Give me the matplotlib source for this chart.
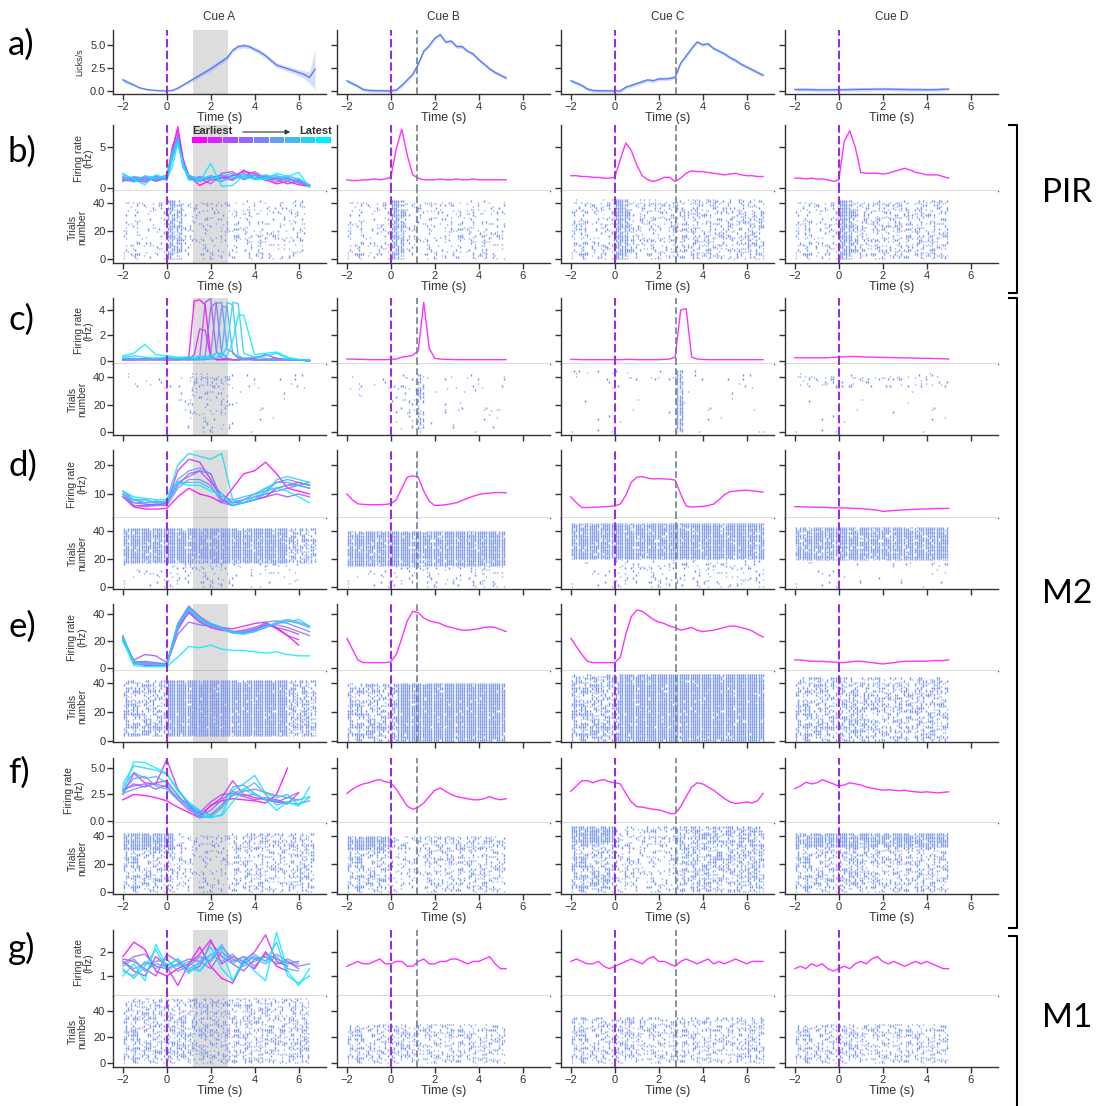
import numpy as np
import matplotlib
matplotlib.use('Agg')
import matplotlib.pyplot as plt
from matplotlib.colors import LinearSegmentedColormap
from matplotlib.patches import Rectangle

plt.rcParams['font.family'] = ['Liberation Sans', 'DejaVu Sans']

# -------------------- labels --------------------
cues = ['Cue A', 'Cue B', 'Cue C', 'Cue D']
row_tags = ['a)', 'b)', 'c)', 'd)', 'e)', 'f)', 'g)']
regions = ['PIR', 'M2', 'M1']
shade_window = (1.2, 2.8)              # grey window, cue A
second_event = [None, 1.2, 2.8, None]  # grey dashed line per cue

# -------------------- time grids (s) --------------------
t_A = np.arange(-2, 6.76, 0.25)
t_B = np.arange(-2, 5.26, 0.25)
t_C = np.arange(-2, 6.76, 0.25)
t_D = np.arange(-2, 5.01, 0.25)
t_multi_b = [-2, -1.5, -1, -0.5, 0, 0.25, 0.5, 0.75, 1, 1.5, 2, 2.5, 3, 3.5, 4, 4.5, 5, 5.5, 6, 6.5]
t_multi_c = [-2, -1.5, -1, -0.5, 0, 0.5, 1, 1.25, 1.5, 1.75, 2, 2.25, 2.5, 2.75, 3, 3.25, 3.5, 4, 4.5, 5, 5.5, 6, 6.5]
t_multi = np.arange(-2, 6.51, 0.5)
nan = np.nan

# -------------------- licking (licks/s) --------------------
lick_A = [1.2, 0.9, 0.65, 0.35, 0.2, 0.1, 0.05, 0.02, 0.0, 0.05, 0.3, 0.65, 1.0, 1.35, 1.7, 2.05, 2.4, 2.8,
          3.2, 3.6, 4.4, 4.8, 4.9, 4.8, 4.5, 4.2, 3.8, 3.3, 2.8, 2.6, 2.4, 2.2, 2.0, 1.8, 1.45, 2.35]
lick_A_sem = [0.25, 0.2, 0.15, 0.1, 0.08, 0.05, 0.03, 0.02, 0.02, 0.05, 0.1, 0.15, 0.2, 0.2, 0.2, 0.22, 0.25, 0.25,
              0.25, 0.25, 0.25, 0.25, 0.25, 0.25, 0.25, 0.25, 0.25, 0.25, 0.25, 0.25, 0.3, 0.3, 0.35, 0.4, 0.6, 2.2]
lick_B = [1.1, 0.8, 0.5, 0.15, 0.05, 0.03, 0.02, 0.01, 0.0, 0.1, 0.6, 1.2, 1.8, 2.9, 4.3, 4.9, 5.7, 6.1,
          5.3, 5.4, 4.8, 4.8, 4.3, 4.0, 3.4, 2.9, 2.4, 2.0, 1.7, 1.4]
lick_C = [1.1, 0.85, 0.6, 0.2, 0.05, 0.02, 0.01, 0.0, 0.0, 0.0, 0.4, 0.6, 0.8, 1.0, 1.2, 1.1, 1.3, 1.3,
          1.35, 1.5, 3.0, 3.8, 4.6, 5.3, 5.0, 5.1, 4.6, 4.3, 4.0, 3.6, 3.3, 2.9, 2.6, 2.3, 2.0, 1.7]
lick_D = [0.15, 0.15, 0.15, 0.14, 0.12, 0.12, 0.12, 0.12, 0.13, 0.14, 0.15, 0.16, 0.17, 0.18, 0.18, 0.2,
          0.2, 0.2, 0.18, 0.17, 0.16, 0.15, 0.15, 0.14, 0.13, 0.14, 0.15, 0.18, 0.2]
lick_sem = 0.2

# -------------------- firing rates, cue A (earliest -> latest session) --------------------
fr_b_A = [
    [1.0, 0.8, 1.2, 0.9, 1.3, 4.5, 7.5, 3.5, 1.5, 0.3, 1.0, 1.2, 1.5, 2.0, 1.8, 1.0, 0.5, 0.8, 0.4, 0.2],
    [1.2, 1.0, 0.7, 1.4, 1.1, 5.0, 7.0, 3.0, 1.2, 0.8, 1.3, 1.5, 1.0, 2.2, 1.2, 1.4, 1.0, 0.5, 0.9, 0.3],
    [0.8, 1.3, 1.0, 1.1, 1.6, 4.0, 6.5, 3.2, 1.4, 1.2, 0.5, 1.8, 2.0, 1.0, 1.6, 0.9, 1.2, 1.1, 0.6, 0.2],
    [1.1, 0.9, 1.4, 0.8, 1.2, 4.2, 6.2, 2.8, 1.0, 1.4, 1.1, 0.8, 1.6, 1.4, 2.0, 1.2, 0.7, 1.3, 0.8, 0.3],
    [1.4, 1.1, 0.9, 1.3, 1.0, 3.8, 6.0, 3.0, 1.6, 1.0, 1.5, 1.2, 0.9, 1.8, 1.1, 1.5, 1.1, 0.9, 1.0, 0.4],
    [0.9, 1.4, 1.2, 1.0, 1.4, 4.4, 5.8, 2.6, 1.3, 0.9, 1.2, 1.6, 1.3, 1.2, 1.7, 1.0, 1.4, 1.2, 0.7, 0.3],
    [1.6, 1.2, 1.1, 1.5, 0.9, 3.5, 5.5, 2.9, 1.1, 1.3, 1.0, 1.4, 1.8, 1.1, 1.3, 1.6, 1.2, 1.5, 1.1, 0.3],
    [1.3, 0.7, 1.5, 1.2, 1.5, 4.0, 6.0, 2.4, 1.5, 1.1, 1.4, 0.9, 1.2, 1.7, 1.0, 1.3, 1.6, 0.8, 1.2, 0.2],
    [1.8, 1.0, 0.4, 1.6, 1.2, 2.5, 5.5, 3.0, 1.0, 0.8, 3.0, 0.2, 0.3, 1.5, 1.2, 1.0, 1.8, 1.4, 1.9, 0.1],
]
fr_c_A = [
    [0.1, 0.1, 0.1, 0.2, 0.1, 0.1, 0.3, 4.7, 4.8, 4.4, 0.4, 0.1, 0.1, 0.1, 0.1, 0.1, 0.2, 0.1, 0.1, 0.1, 0.1, 0.1, 0.0],
    [0.1, 0.1, 0.2, 0.1, 0.1, 0.2, 0.1, 0.5, 2.5, 2.4, 0.3, 0.1, 0.1, 0.2, 0.1, 0.1, 0.1, 0.2, 0.5, 0.2, 0.1, 0.1, 0.0],
    [0.1, 0.1, 0.1, 0.1, 0.2, 0.1, 0.1, 0.1, 0.3, 4.6, 4.9, 0.8, 0.2, 0.1, 0.1, 0.1, 0.2, 0.1, 0.1, 0.1, 0.1, 0.1, 0.0],
    [0.1, 0.2, 0.1, 0.1, 0.1, 0.1, 0.2, 0.1, 0.1, 0.4, 4.2, 4.6, 0.6, 0.2, 0.1, 0.1, 0.1, 0.1, 0.1, 0.2, 0.1, 0.1, 0.0],
    [0.2, 0.1, 0.1, 0.1, 0.1, 0.1, 0.1, 0.2, 0.1, 0.1, 0.5, 4.5, 4.6, 0.9, 0.7, 0.3, 0.2, 0.1, 0.1, 0.1, 0.1, 0.1, 0.0],
    [0.1, 0.1, 0.2, 0.1, 0.1, 0.1, 0.1, 0.1, 0.2, 0.1, 0.2, 0.6, 4.3, 4.2, 0.6, 0.2, 0.1, 0.1, 0.1, 0.1, 0.1, 0.1, 0.0],
    [0.2, 0.2, 0.1, 0.2, 0.1, 0.2, 0.1, 0.1, 0.1, 0.2, 0.1, 0.2, 0.7, 4.6, 4.4, 0.4, 0.2, 0.3, 0.2, 0.1, 0.1, 0.1, 0.0],
    [0.3, 0.4, 0.3, 0.2, 0.3, 0.2, 0.3, 0.2, 0.2, 0.3, 0.3, 0.2, 0.3, 1.2, 4.6, 4.5, 0.6, 0.3, 0.4, 0.6, 0.2, 0.1, 0.1],
    [0.4, 0.6, 1.3, 0.5, 0.4, 0.3, 0.3, 0.3, 0.4, 0.3, 0.4, 0.6, 0.5, 0.4, 1.5, 3.6, 3.6, 0.5, 0.6, 0.7, 0.3, 0.1, 0.1],
]
fr_d_A = [
    [9, 5.5, 4.8, 4.8, 5.0, 9, 12, 10, 9, 7, 12, 17, 18, 21, 17, 12, 11, 10],
    [10, 6, 6, 6.5, 6.5, 18, 22, 21, 15, 8, 6, 7, 8, 9, 12, 13, 14, 13],
    [10, 7, 6.5, 6, 7, 13, 17, 18, 14, 10, 7, 7, 8, 9, 10, 9, 10, 9],
    [11, 8, 7, 7.5, 7, 14, 16, 18, 17, 8, 7, 8, 9, 10, 11, 12, 13, 12],
    [9, 6, 5.5, 6, 6, 12, 15, 15, 13, 7, 6, 7, 8, 11, 14, 15, 14, 13],
    [10, 8, 8, 7, 7.5, 15, 18, 19, 17, 8, 7, 8, 10, 12, 14, 14, 13, 14],
    [10, 7, 7, 7, 7, 14, 14, 14, 12, 9, 8, 9, 10, 11, 12, 13, 13, 12],
    [11, 9, 8.5, 8, 8, 20, 24, 23, 22, 24, 8, 7, 8, 10, 15, 16, 15, 14],
    [10, 8, 8, 7, 7.5, 14, 13, 13, 11, 10, 6, 7, 9, 12, 12, 11, 9, 7],
]
fr_e_A = [
    [23, 4, 2, 1.5, 2, 30, 41, 34, 30, 28, 27, 26, 28, 32, 30, 24, 17, nan],
    [22, 5, 4, 3, 3, 32, 45, 38, 32, 30, 29, 31, 33, 34, 29, 24, 21, nan],
    [20, 6, 10, 9, 4, 28, 42, 35, 31, 30, 27, 28, 30, 33, 30, 28, 25, nan],
    [22, 4, 5, 4, 3, 25, 34, 32, 31, 29, 26, 27, 29, 31, 32, 30, 27, 24],
    [24, 3, 3, 3, 3, 33, 46, 38, 33, 30, 27, 26, 28, 34, 35, 33, 30, 27],
    [21, 5, 4, 3, 3, 30, 44, 36, 32, 29, 26, 26, 27, 30, 33, 35, 33, 30],
    [23, 4, 3, 3, 2, 31, 45, 37, 33, 30, 27, 26, 27, 30, 34, 36, 34, 31],
    [22, 4, 3, 2.5, 2, 32, 43, 35, 31, 29, 26, 25, 27, 31, 33, 34, 36, 31],
    [20, 2, 1, 1, 1, 8, 16, 15, 17, 14, 13, 13, 12, 11, 12, 10, 9, 9],
]
fr_f_A = [
    [2.0, 2.5, 2.4, 2.2, 1.9, 1.3, 0.8, 0.3, 1.5, 1.9, 2.1, 2.0, 1.9, 1.7, 2.5, 5.0, nan, nan],
    [2.5, 4.5, 3.6, 3.5, 5.8, 3.0, 1.5, 0.6, 1.4, 2.2, 3.8, 2.5, 2.2, 2.0, 1.8, 1.6, nan, nan],
    [2.8, 3.5, 3.2, 3.6, 3.8, 2.4, 1.2, 0.8, 1.8, 2.5, 2.6, 2.3, 2.0, 2.2, 2.0, 1.7, 2.6, nan],
    [3.0, 3.3, 3.5, 3.0, 3.4, 2.0, 1.0, 0.5, 1.0, 2.0, 2.8, 2.4, 2.5, 2.0, 1.8, 2.2, 2.7, nan],
    [2.6, 3.0, 3.3, 3.5, 3.2, 2.2, 1.6, 0.9, 0.6, 1.5, 2.4, 2.8, 3.0, 2.7, 2.4, 2.2, 2.0, nan],
    [2.9, 4.0, 4.2, 3.3, 3.0, 2.0, 1.4, 0.4, 0.5, 1.4, 3.2, 3.4, 2.6, 2.0, 1.9, 1.7, 1.6, 1.9],
    [3.2, 4.6, 4.0, 4.2, 3.6, 2.5, 1.2, 0.3, 0.4, 1.2, 2.6, 3.0, 3.6, 2.5, 1.5, 1.8, 2.0, 2.3],
    [3.5, 5.2, 5.0, 4.8, 4.4, 3.0, 1.7, 0.6, 0.3, 0.6, 2.9, 3.5, 4.3, 2.6, 2.2, 2.5, 1.5, 2.2],
    [2.6, 5.6, 5.5, 5.0, 4.5, 2.8, 1.8, 1.0, 0.4, 0.5, 1.8, 3.0, 2.5, 2.0, 1.0, 1.8, 1.4, 3.2],
]
fr_g_A = [
    [1.8, 2.4, 2.1, 1.2, 1.0, 1.3, 1.5, 2.2, 1.4, 0.9, 0.7, 1.6, 1.3, 2.0, 1.4, 1.2, nan, nan],
    [1.6, 1.2, 1.0, 1.8, 1.4, 0.6, 1.5, 1.9, 2.5, 1.5, 1.8, 1.6, 2.0, 2.7, 1.6, 1.4, nan, nan],
    [1.7, 1.6, 1.3, 1.0, 1.9, 1.6, 1.2, 1.4, 2.4, 1.8, 1.5, 1.2, 1.7, 1.8, 1.5, 1.6, 1.3, nan],
    [1.5, 1.8, 1.9, 1.4, 1.3, 1.5, 1.7, 1.6, 1.3, 2.0, 1.6, 1.8, 1.4, 1.9, 1.7, 1.5, 1.6, nan],
    [1.6, 1.3, 1.5, 1.6, 1.7, 1.2, 1.4, 1.8, 1.6, 2.2, 1.7, 1.5, 1.8, 1.6, 1.9, 1.6, 1.4, 1.5],
    [1.4, 1.7, 1.2, 1.5, 1.4, 1.7, 1.3, 1.5, 1.9, 1.6, 1.9, 1.4, 1.6, 1.8, 1.5, 1.7, 1.5, nan],
    [1.2, 1.0, 1.6, 1.3, 1.5, 1.4, 1.6, 1.2, 1.7, 2.3, 1.5, 1.8, 1.7, 1.5, 1.8, 1.3, 1.2, nan],
    [1.3, 0.9, 1.4, 2.1, 1.2, 1.5, 1.1, 1.6, 2.2, 1.3, 0.8, 1.5, 1.9, 1.6, 2.4, 1.0, 0.7, 1.0],
    [1.0, 1.5, 0.8, 2.3, 1.4, 1.7, 1.3, 1.2, 1.9, 2.1, 0.8, 1.7, 1.2, 0.8, 2.8, 1.2, 0.6, 1.3],
]

# -------------------- firing rates, cues B-D --------------------
fr_b_B = [1.0, 0.9, 0.9, 1.0, 1.0, 1.1, 1.0, 1.1, 1.3, 4.8, 7.2, 4.0, 1.6, 1.2, 1.0, 1.0, 1.0, 1.1, 1.0, 1.0,
          1.1, 1.0, 1.0, 1.1, 1.0, 1.0, 1.0, 1.0, 1.0, 1.0]
fr_b_C = [1.5, 1.5, 1.4, 1.4, 1.3, 1.3, 1.2, 1.2, 1.3, 3.5, 5.5, 4.6, 2.8, 1.5, 1.0, 0.8, 1.0, 1.3, 1.3, 0.8,
          1.2, 1.8, 2.1, 2.0, 2.0, 1.9, 1.8, 1.7, 1.6, 1.7, 1.8, 1.6, 1.5, 1.5, 1.4, 1.4]
fr_b_D = [1.2, 1.2, 1.1, 1.2, 1.1, 1.1, 1.0, 0.8, 1.0, 5.7, 7.0, 5.0, 1.9, 1.8, 1.8, 1.8, 1.7, 1.8, 2.0, 2.2,
          2.4, 2.2, 1.9, 1.8, 1.6, 1.6, 1.6, 1.4, 1.2]
fr_c_B = [0.15, 0.15, 0.12, 0.12, 0.1, 0.1, 0.1, 0.1, 0.12, 0.15, 0.3, 0.35, 0.45, 0.8, 4.6, 1.0, 0.2, 0.15,
          0.12, 0.12, 0.1, 0.1, 0.1, 0.1, 0.1, 0.1, 0.1, 0.1, 0.1, 0.1]
fr_c_C = [0.12, 0.12, 0.1, 0.1, 0.1, 0.1, 0.1, 0.1, 0.1, 0.1, 0.12, 0.12, 0.1, 0.1, 0.1, 0.1, 0.1, 0.12,
          0.15, 0.3, 4.0, 4.1, 0.3, 0.15, 0.12, 0.1, 0.1, 0.1, 0.1, 0.1, 0.1, 0.1, 0.1, 0.1, 0.1, 0.1]
fr_c_D = [0.25, 0.25, 0.25, 0.25, 0.25, 0.25, 0.25, 0.28, 0.3, 0.32, 0.35, 0.35, 0.33, 0.3, 0.3, 0.28, 0.28,
          0.27, 0.26, 0.25, 0.24, 0.23, 0.22, 0.2, 0.2, 0.2, 0.18, 0.17, 0.15]
fr_d_B = [10, 8, 6.6, 6.4, 6.3, 6.3, 6.3, 6.4, 6.6, 8, 12, 15.8, 16.3, 15.8, 11, 7.5, 6.0, 6.1, 6.3, 6.6,
          7.0, 7.8, 8.5, 9.2, 9.8, 10.1, 10.3, 10.5, 10.5, 10.4]
fr_d_C = [9.0, 7.0, 5.3, 5.3, 5.4, 5.5, 5.6, 5.7, 5.9, 6.5, 9.5, 14, 15.8, 16.0, 15.5, 15.2, 15.3, 15.2,
          15.1, 14.8, 10, 5.8, 5.5, 5.6, 5.7, 6.0, 6.5, 8, 9.8, 10.8, 11.0, 11.2, 11.3, 11.1, 10.9, 10.6]
fr_d_D = [5.6, 5.6, 5.5, 5.5, 5.4, 5.4, 5.3, 5.2, 5.2, 5.2, 5.1, 5.0, 4.9, 4.8, 4.6, 4.4, 4.0, 4.1, 4.3,
          4.4, 4.5, 4.6, 4.7, 4.8, 4.8, 4.9, 5.0, 5.0, 5.0]
fr_e_B = [22, 14, 6, 4, 4, 4, 4, 4, 4.5, 10, 22, 35, 42, 41, 37, 35, 34, 33, 31, 30, 29, 28, 28, 28.5, 29,
          30, 30.5, 30, 28.5, 27]
fr_e_C = [22, 16, 10, 5, 4, 4, 4, 4, 4, 8, 25, 38, 43, 42, 39, 36, 34, 33, 31, 30, 28, 29, 30, 28, 27, 27.5,
          28, 29, 30, 31, 31, 30, 29, 27.5, 25, 23]
fr_e_D = [6, 6, 5.5, 5, 5, 5, 4.5, 4.5, 4, 4, 4.5, 5, 5, 4.5, 4, 3.5, 3, 3.5, 4, 4.5, 5, 5, 5, 5, 5, 5.5,
          5.5, 5.5, 6]
fr_f_B = [2.6, 3.0, 3.3, 3.5, 3.6, 3.8, 3.9, 3.7, 3.6, 3.0, 2.2, 1.4, 1.1, 1.3, 1.7, 2.3, 2.9, 3.1, 2.8, 2.5,
          2.3, 2.2, 2.1, 2.0, 2.0, 2.1, 2.3, 2.1, 2.0, 2.1]
fr_f_C = [2.8, 3.3, 3.8, 3.8, 3.6, 3.8, 3.9, 3.7, 3.6, 3.5, 2.6, 1.8, 1.35, 1.3, 1.2, 1.1, 1.05, 0.9, 0.7,
          0.7, 1.35, 2.3, 3.2, 3.6, 3.5, 3.2, 2.9, 2.5, 2.1, 1.8, 1.65, 1.7, 1.8, 1.7, 1.9, 2.6]
fr_f_D = [3.05, 3.3, 3.65, 3.5, 3.6, 3.9, 3.7, 3.5, 3.3, 3.4, 3.6, 3.5, 3.4, 3.2, 3.1, 3.0, 2.9, 2.95, 2.9,
          2.85, 2.9, 2.8, 2.75, 2.7, 2.75, 2.7, 2.65, 2.7, 2.75]
fr_g_B = [1.4, 1.5, 1.6, 1.5, 1.5, 1.6, 1.7, 1.5, 1.5, 1.6, 1.6, 1.4, 1.4, 1.6, 1.7, 1.5, 1.5, 1.6, 1.6, 1.7,
          1.7, 1.6, 1.5, 1.6, 1.6, 1.7, 1.8, 1.5, 1.3, 1.3]
fr_g_C = [1.6, 1.7, 1.6, 1.5, 1.5, 1.6, 1.4, 1.3, 1.4, 1.5, 1.6, 1.7, 1.6, 1.5, 1.7, 1.8, 1.6, 1.6, 1.5, 1.4,
          1.6, 1.7, 1.6, 1.5, 1.6, 1.7, 1.5, 1.6, 1.5, 1.6, 1.7, 1.6, 1.5, 1.6, 1.6, 1.6]
fr_g_D = [1.3, 1.4, 1.3, 1.5, 1.4, 1.5, 1.3, 1.2, 1.3, 1.4, 1.3, 1.5, 1.6, 1.5, 1.7, 1.8, 1.6, 1.5, 1.6, 1.5,
          1.4, 1.5, 1.6, 1.5, 1.6, 1.5, 1.4, 1.3, 1.3]

# -------------------- rasters: (first trial, last trial, [(t0, t1, spike prob per 100 ms bin)]) --------------------
spk_b_A = [(0, 42, [(-2, 0, 0.12), (0, 0.7, 0.6), (0.7, 6.3, 0.15)])]
spk_b_B = [(0, 42, [(-2, 0, 0.14), (0, 0.6, 0.7), (0.6, 5.2, 0.16)])]
spk_b_C = [(0, 43, [(-2, 0, 0.22), (0, 0.6, 0.8), (0.6, 2.8, 0.25), (2.8, 6.8, 0.32)])]
spk_b_D = [(0, 42, [(-2, 0, 0.18), (0, 0.6, 0.8), (0.6, 5.0, 0.3)])]
spk_c_A = [(32, 43, [(-2, 0, 0.06), (0, 1.0, 0.02), (1.0, 3.0, 0.25), (3.0, 6.5, 0.02)]),
           (0, 32, [(0.5, 1.0, 0.02), (1.0, 3.0, 0.12), (3.0, 6.0, 0.005)])]
spk_c_B = [(26, 42, [(-2, 0, 0.05), (0, 1.2, 0.08), (1.2, 1.5, 0.6), (1.5, 5.2, 0.03)]),
           (0, 26, [(0, 1.2, 0.06), (1.2, 1.5, 0.55), (1.5, 5.2, 0.02)])]
spk_c_C = [(36, 45, [(-2, 2.8, 0.05), (2.8, 3.1, 0.7), (3.1, 6.8, 0.02)]),
           (0, 36, [(-2, 2.8, 0.005), (2.8, 3.1, 0.8), (3.1, 6.8, 0.005)])]
spk_c_D = [(33, 43, [(-2, 5.0, 0.12)]), (0, 33, [(-2, 5.0, 0.005)])]
spk_d_A = [(17, 42, [(-2, 5.5, 0.9), (5.5, 6.8, 0.5)]),
           (0, 17, [(-2, 0, 0.05), (0, 3, 0.15), (3, 6, 0.05)])]
spk_d_B = [(15, 40, [(-2, 5.2, 0.9)]), (0, 15, [(-2, 0, 0.04), (0, 5.2, 0.12)])]
spk_d_C = [(20, 46, [(-2, 6.8, 0.9)]), (0, 20, [(-2, 0, 0.03), (0, 2.8, 0.15), (2.8, 6.8, 0.1)])]
spk_d_D = [(19, 43, [(-2, 5.0, 0.85)]), (0, 19, [(-2, 5.0, 0.02)])]
spk_e_A = [(3, 42, [(-2, 0, 0.45), (0, 5.5, 0.95), (5.5, 6.8, 0.5)])]
spk_e_B = [(0, 40, [(-2, 0.3, 0.45), (0.3, 5.2, 0.95)])]
spk_e_C = [(0, 46, [(-2, 0.2, 0.5), (0.2, 6.8, 0.95)])]
spk_e_D = [(0, 44, [(-2, 5.0, 0.4)])]
spk_f_A = [(30, 42, [(-2, 0.3, 0.9), (0.3, 3.0, 0.2), (3.0, 6.7, 0.4)]),
           (0, 30, [(-2, 0.3, 0.35), (0.3, 3.0, 0.18), (3.0, 6.7, 0.3)])]
spk_f_B = [(30, 40, [(-2, 0, 0.9), (0, 1.5, 0.25), (1.5, 5.2, 0.4)]),
           (0, 30, [(-2, 0, 0.35), (0, 1.5, 0.15), (1.5, 5.2, 0.3)])]
spk_f_C = [(36, 47, [(-2, 0, 0.9), (0, 2.8, 0.25), (2.8, 6.8, 0.55)]),
           (0, 36, [(-2, 0, 0.45), (0, 2.8, 0.2), (2.8, 6.8, 0.45)])]
spk_f_D = [(32, 42, [(-2, 5.0, 0.85)]), (0, 32, [(-2, 5.0, 0.35)])]
spk_g_A = [(0, 50, [(-2, 6.5, 0.35)])]
spk_g_B = [(0, 30, [(-2, 5.2, 0.3)])]
spk_g_C = [(0, 35, [(-2, 6.8, 0.3)])]
spk_g_D = [(0, 30, [(-2, 5.0, 0.3)])]

# -------------------- layout (pixels) --------------------
W, H = 1098, 1106
col_left = [113, 337, 561, 785]
col_w = 213
xlim = (-2.45, 7.25)
lick_box = (30, 94)
unit_boxes = [(125, 191, 263), (298, 364, 435), (450, 518, 589),
              (604, 671, 742), (758, 823, 894), (930, 996, 1067)]
fr_ylims = [(-0.37, 7.7), (-0.24, 4.94), (1.7, 25.2), (-2.2, 47.4), (-0.19, 5.94), (0.17, 2.9)]
fr_yticks = [[0, 5], [0, 2, 4], [10, 20], [0, 20, 40], [0.0, 2.5, 5.0], [1, 2]]
fr_fmt = ['{:g}', '{:g}', '{:g}', '{:g}', '{:.1f}', '{:g}']
ras_ylims = [(-2.9, 48.6), (-2.2, 49.5), (-1.4, 49.3), (-1.0, 48.3), (-1.4, 49.3), (-3.0, 51.5)]
time_labels = [True, False, False, False, True, True]
tag_y = [45, 152, 320, 466, 627, 773, 948]

ink = '#333333'
purple = '#9b2fd6'
slate = '#6f8090'
lick_blue = '#5b7cf5'
spike_blue = '#6f8ef2'
magenta = '#ff33ff'
curve_colors = LinearSegmentedColormap.from_list(
    'sess', ['#ff00ff', '#b04cf8', '#7d85f3', '#45b8f5', '#00eeff'])(np.linspace(0, 1, 9))

fig = plt.figure(figsize=(W / 100, H / 100), dpi=100)


def px_axes(left, top, width, height):
    return fig.add_axes([left / W, 1 - (top + height) / H, width / W, height / H])


def style(ax):
    ax.spines['top'].set_visible(False)
    ax.spines['right'].set_visible(False)
    for s in ['left', 'bottom']:
        ax.spines[s].set_color(ink)
        ax.spines[s].set_linewidth(1.0)
    ax.tick_params(direction='out', length=4, width=1, color=ink,
                   labelsize=8, labelcolor=ink, pad=1.5)
    ax.set_xlim(*xlim)


def markers(ax, col, span=True):
    if col == 0 and span:
        ax.axvspan(*shade_window, color='#dddddd', lw=0, zorder=0)
    ax.axvline(0, color=purple, lw=1.5, ls=(0, (4, 1.6)), zorder=5)
    if second_event[col] is not None:
        ax.axvline(second_event[col], color=slate, lw=1.2, ls=(0, (4, 2)), zorder=5)


def dither_threshold(k, j):
    # integer hash of (trial, bin) -> threshold in [0, 1)
    h = (k * 374761393 + j * 668265263) & 0xFFFFFFFF
    h = ((h ^ (h >> 13)) * 1274126177) & 0xFFFFFFFF
    h ^= h >> 16
    return h / 4294967296.0


def raster_events(bands, dt=0.1):
    xs, ys = [], []
    for lo, hi, segs in bands:
        for t0, t1, p in segs:
            j0, j1 = int(round((t0 + 2) / dt)), int(round((t1 + 2) / dt))
            for j in range(j0, j1):
                for k in range(lo, hi):
                    if dither_threshold(k, j) < p:
                        xs.append(-2 + (j + 0.5) * dt)
                        ys.append(k + 0.5)
    return np.array(xs), np.array(ys)


def time_axis(ax, labels):
    ax.set_xticks([-2, 0, 2, 4, 6])
    if labels:
        ax.set_xticklabels(['\u22122', '0', '2', '4', '6'])
        ax.set_xlabel('Time (s)', fontsize=9, color=ink, labelpad=0)
    else:
        ax.set_xticklabels([])


# -------------------- row a: licking --------------------
lick_t = [t_A, t_B, t_C, t_D]
lick_y = [lick_A, lick_B, lick_C, lick_D]
lick_e = [lick_A_sem, lick_sem, lick_sem, lick_sem]
for c in range(4):
    ax = px_axes(col_left[c], lick_box[0], col_w, lick_box[1] - lick_box[0])
    style(ax)
    y = np.array(lick_y[c])
    e = np.broadcast_to(np.array(lick_e[c], dtype=float), y.shape)
    ax.fill_between(lick_t[c], y - e, y + e, color=lick_blue, alpha=0.25, lw=0)
    ax.plot(lick_t[c], y, color=lick_blue, lw=1)
    markers(ax, c)
    ax.set_ylim(-0.33, 6.6)
    ax.set_yticks([0, 2.5, 5.0])
    if c == 0:
        ax.set_yticklabels(['0.0', '2.5', '5.0'])
        ax.set_ylabel('Licks/s', fontsize=6.5, color=ink, labelpad=4)
    else:
        ax.set_yticklabels([])
    time_axis(ax, True)
    ax.set_title(cues[c], fontsize=8.5, color=ink, pad=7)

# -------------------- rows b-g: firing rate + raster --------------------
multi_t = [t_multi_b, t_multi_c, t_multi, t_multi, t_multi, t_multi]
cue_A_rates = [fr_b_A, fr_c_A, fr_d_A, fr_e_A, fr_f_A, fr_g_A]
single_rates = [[fr_b_B, fr_b_C, fr_b_D], [fr_c_B, fr_c_C, fr_c_D], [fr_d_B, fr_d_C, fr_d_D],
                [fr_e_B, fr_e_C, fr_e_D], [fr_f_B, fr_f_C, fr_f_D], [fr_g_B, fr_g_C, fr_g_D]]
rasters = [[spk_b_A, spk_b_B, spk_b_C, spk_b_D], [spk_c_A, spk_c_B, spk_c_C, spk_c_D],
           [spk_d_A, spk_d_B, spk_d_C, spk_d_D], [spk_e_A, spk_e_B, spk_e_C, spk_e_D],
           [spk_f_A, spk_f_B, spk_f_C, spk_f_D], [spk_g_A, spk_g_B, spk_g_C, spk_g_D]]
single_t = [t_B, t_C, t_D]

for r, (top, mid, bot) in enumerate(unit_boxes):
    for c in range(4):
        ax = px_axes(col_left[c], top, col_w, mid - top)
        style(ax)
        ax.spines['bottom'].set_color('#555555')
        ax.set_xticks([])
        if c == 0:
            for i, y in enumerate(cue_A_rates[r]):
                ax.plot(multi_t[r], y, color=curve_colors[i], lw=1, alpha=0.85, zorder=3)
        else:
            ax.plot(single_t[c - 1], single_rates[r][c - 1], color=magenta, lw=1, zorder=3)
        markers(ax, c)
        ax.set_ylim(*fr_ylims[r])
        ax.set_yticks(fr_yticks[r])
        if c == 0:
            ax.set_yticklabels([fr_fmt[r].format(v) for v in fr_yticks[r]])
            ax.set_ylabel('Firing rate\n(Hz)', fontsize=7.5, color=ink, linespacing=1.0, labelpad=4)
        else:
            ax.set_yticklabels([])

        rx = px_axes(col_left[c], mid, col_w, bot - mid)
        style(rx)
        xs, ys = raster_events(rasters[r][c])
        if len(xs):
            rx.vlines(xs, ys - 0.5, ys + 0.5, color=spike_blue, lw=1.0, zorder=2)
        markers(rx, c)
        rx.set_ylim(*ras_ylims[r])
        rx.set_yticks([0, 20, 40])
        if c == 0:
            rx.set_ylabel('Trials\nnumber', fontsize=7.5, color=ink, linespacing=1.0, labelpad=4)
        else:
            rx.set_yticklabels([])
        time_axis(rx, time_labels[r])

# -------------------- overlay: tags, session key, region brackets --------------------
ov = fig.add_axes([0, 0, 1, 1])
ov.set_xlim(0, W)
ov.set_ylim(H, 0)
ov.axis('off')
ov.patch.set_alpha(0)

tag_font = ['Lato', 'DejaVu Sans']
for tag, y in zip(row_tags, tag_y):
    ov.text(8, y, tag, fontsize=25, family=tag_font, ha='left', va='center', color='black')

ov.text(192, 131, 'Earliest', fontsize=8, weight='bold', color=ink, ha='left', va='center')
ov.text(332, 131, 'Latest', fontsize=8, weight='bold', color=ink, ha='right', va='center')
ov.annotate('', xy=(293, 132), xytext=(240, 132),
            arrowprops=dict(arrowstyle='-|>', lw=0.8, color=ink, mutation_scale=7))
seg = (332 - 192) / 9
for i in range(9):
    ov.add_patch(Rectangle((192 + i * seg, 137), seg - 1, 6, color=curve_colors[i], lw=0))

brackets = [(125, 293), (298, 928), (936, 1110)]
label_y = [193, 594, 1018]
for (y0, y1), name, ly in zip(brackets, regions, label_y):
    ov.plot([1009, 1017, 1017, 1009], [y0, y0, y1, y1], color='black', lw=1.5, clip_on=False)
    ov.text(1067, ly, name, fontsize=24, family=tag_font, ha='center', va='center', color='black')

fig.savefig('out.png', dpi=100)
